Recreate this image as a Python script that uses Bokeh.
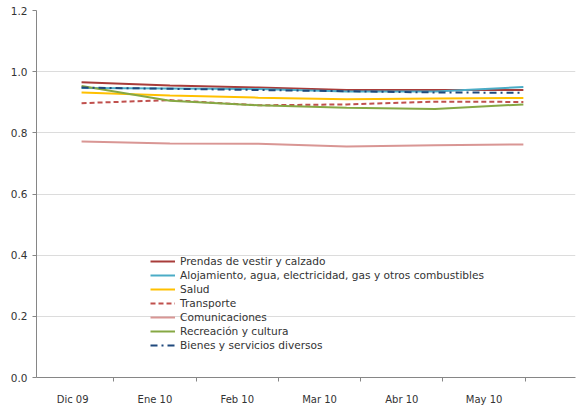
from bokeh.plotting import figure
from bokeh.models import (Range1d, LinearAxis, FixedTicker, Legend, LegendItem,
                          ColumnDataSource, CustomJSTickFormatter)
from bokeh.embed import file_html
from bokeh.resources import INLINE

months = ["Dic 09", "Ene 10", "Feb 10", "Mar 10", "Abr 10", "May 10"]

prendas = [0.965, 0.955, 0.948, 0.940, 0.940, 0.940]
alojamiento = [0.947, 0.945, 0.943, 0.935, 0.935, 0.950]
salud = [0.932, 0.922, 0.915, 0.910, 0.912, 0.914]
transporte = [0.897, 0.907, 0.890, 0.893, 0.902, 0.901]
comunicaciones = [0.772, 0.765, 0.764, 0.755, 0.759, 0.762]
recreacion = [0.953, 0.905, 0.890, 0.882, 0.878, 0.893]
bienes = [0.948, 0.944, 0.940, 0.936, 0.932, 0.931]

series = [
    ("Prendas de vestir y calzado", prendas, "#A83C3A", "solid"),
    ("Alojamiento, agua, electricidad, gas y otros combustibles", alojamiento, "#4BACC6", "solid"),
    ("Salud", salud, "#FFC000", "solid"),
    ("Transporte", transporte, "#C0504D", "5 3"),
    ("Comunicaciones", comunicaciones, "#D99694", "solid"),
    ("Recreación y cultura", recreacion, "#86A844", "solid"),
    ("Bienes y servicios diversos", bienes, "#1F497D", "7 4 2 4"),
]

FONT = "DejaVu Sans"
TXT = "#333333"
AX = "#868686"

p = figure(width=577, height=407, output_backend="svg", toolbar_location=None,
           x_range=Range1d(-0.51, 5.59), y_range=Range1d(0, 1.2),
           x_axis_type=None, min_border_left=36, min_border_right=2,
           min_border_top=10, min_border_bottom=20)
p.outline_line_color = None
p.background_fill_color = "white"

xs = list(range(len(months)))
items = []
for name, vals, color, dash in series:
    src = ColumnDataSource(dict(x=xs, y=vals))
    r = p.line("x", "y", source=src, line_color=color, line_width=2, line_dash=dash)
    items.append(LegendItem(label=name, renderers=[r]))

# y axis
ya = p.yaxis[0]
ya.ticker = FixedTicker(ticks=[0, 0.2, 0.4, 0.6, 0.8, 1.0, 1.2])
ya.formatter = CustomJSTickFormatter(code="return tick.toFixed(1);")
ya.axis_line_color = AX
ya.major_tick_line_color = AX
ya.major_tick_out = 4
ya.major_tick_in = 0
ya.minor_tick_line_color = None
ya.major_label_text_font = FONT
ya.major_label_text_font_size = "10.5px"
ya.major_label_text_color = TXT
ya.major_label_standoff = 5

p.ygrid.grid_line_color = "#DCDCDC"
p.ygrid.ticker = ya.ticker
p.xgrid.grid_line_color = None

# category axis
p.extra_x_ranges = {"cat": Range1d(0.061, 6.61)}
cat_ticks = [i + 0.5 for i in range(len(months))]
xa = LinearAxis(x_range_name="cat",
                ticker=FixedTicker(ticks=cat_ticks, minor_ticks=list(range(len(months) + 1))))
xa.major_label_overrides = {t: m for t, m in zip(cat_ticks, months)}
xa.axis_line_color = AX
xa.major_tick_line_color = None
xa.minor_tick_line_color = AX
xa.minor_tick_out = 4
xa.minor_tick_in = 0
xa.major_label_text_font = FONT
xa.major_label_text_font_size = "10px"
xa.major_label_text_color = TXT
xa.major_label_standoff = 10
p.add_layout(xa, "below")

legend = Legend(items=items, location=(114, 25))
legend.padding = 0
legend.margin = 0
legend.spacing = 0
legend.label_height = 14
legend.glyph_height = 14
legend.glyph_width = 25
legend.label_standoff = 5
legend.border_line_color = None
legend.background_fill_alpha = 0
legend.label_text_font = FONT
legend.label_text_font_size = "10.6px"
legend.label_text_color = TXT
p.add_layout(legend, "center")

open("out.html", "w").write(file_html(p, INLINE))
